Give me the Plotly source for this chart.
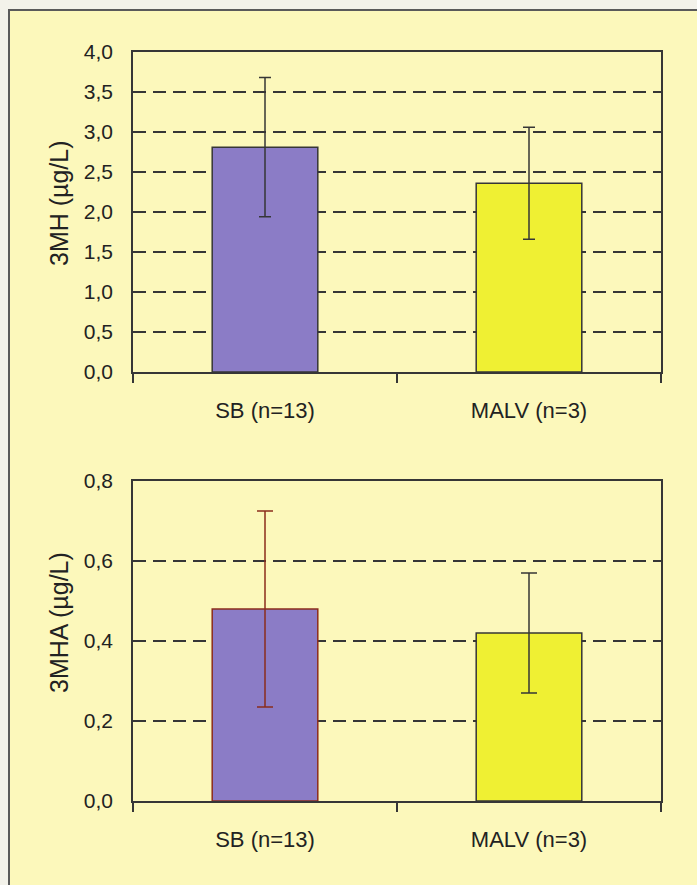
import plotly.graph_objects as go

# ---- data ----
categories = ["SB (n=13)", "MALV (n=3)"]
mh_means = [2.81, 2.36]
mh_err = [0.87, 0.70]
mha_means = [0.48, 0.42]
mha_err = [0.245, 0.15]
mh_ticks = [0.0, 0.5, 1.0, 1.5, 2.0, 2.5, 3.0, 3.5, 4.0]
mha_ticks = [0.0, 0.2, 0.4, 0.6, 0.8]

# ---- styles ----
W, H = 697, 885
bar_fill = ["#8B7CC6", "#EFF033"]
top_line = ["#363636", "#363636"]
bot_line = ["#8B2C1C", "#363636"]
axis_col = "#363636"
font_fam = "Liberation Sans, Arial, sans-serif"
txt_col = "#222222"

def px_x(p):
    return p / W

def px_y(p):
    return 1 - p / H

fig = go.Figure()

for i, cat in enumerate(categories):
    fig.add_trace(go.Bar(
        x=[cat], y=[mh_means[i]], width=0.4,
        marker=dict(color=bar_fill[i], line=dict(color=top_line[i], width=1.5)),
        error_y=dict(type="data", array=[mh_err[i]], color=top_line[i], thickness=1.5, width=6),
        xaxis="x", yaxis="y", showlegend=False,
    ))
    fig.add_trace(go.Bar(
        x=[cat], y=[mha_means[i]], width=0.4,
        marker=dict(color=bar_fill[i], line=dict(color=bot_line[i], width=1.5)),
        error_y=dict(type="data", array=[mha_err[i]], color=bot_line[i], thickness=1.5, width=8),
        xaxis="x2", yaxis="y2", showlegend=False,
    ))

xdom = [px_x(133), px_x(661)]
common_x = dict(
    domain=xdom, type="category", categoryorder="array", categoryarray=categories,
    showline=True, linecolor=axis_col, linewidth=1.5, mirror=True,
    ticks="outside", tickson="boundaries", ticklen=9, tickcolor=axis_col, tickwidth=1.5,
    tickfont=dict(family=font_fam, size=22, color=txt_col), ticklabelstandoff=18,
    showgrid=False, zeroline=False, automargin=False,
)
common_y = dict(
    showline=True, linecolor=axis_col, linewidth=1.5, mirror=True,
    showgrid=True, gridcolor=axis_col, gridwidth=1.6, griddash="13px,7px",
    zeroline=False, ticks="outside", ticklen=14, tickcolor="rgba(0,0,0,0)",
    tickfont=dict(family=font_fam, size=21, color=txt_col),
    tickmode="array", automargin=False,
)

fig.update_layout(
    width=W, height=H, margin=dict(l=0, r=0, t=0, b=0, autoexpand=False),
    paper_bgcolor="#F3F2EA", plot_bgcolor="#FEFEFA",
    barmode="overlay", separators=",.",
    xaxis=dict(common_x, anchor="y"),
    yaxis=dict(common_y, anchor="x", domain=[px_y(372), px_y(52)], range=[0, 4.0],
               tickvals=mh_ticks, ticktext=[f"{v:.1f}".replace(".", ",") for v in mh_ticks]),
    xaxis2=dict(common_x, anchor="y2"),
    yaxis2=dict(common_y, anchor="x2", domain=[px_y(801), px_y(481)], range=[0, 0.8],
                tickvals=mha_ticks, ticktext=[f"{v:.1f}".replace(".", ",") for v in mha_ticks]),
    shapes=[
        dict(type="rect", xref="paper", yref="paper", layer="below",
             x0=px_x(9), x1=1.05, y0=-0.05, y1=px_y(10),
             fillcolor="#FCF8BB", line=dict(color="#5a5a5a", width=2)),
    ],
    annotations=[
        dict(text="3MH (µg/L)", xref="paper", yref="paper", x=px_x(59), y=px_y(203),
             xanchor="center", yanchor="middle",
             textangle=-90, showarrow=False, font=dict(family=font_fam, size=25, color=txt_col)),
        dict(text="3MHA (µg/L)", xref="paper", yref="paper", x=px_x(59), y=px_y(623),
             xanchor="center", yanchor="middle",
             textangle=-90, showarrow=False, font=dict(family=font_fam, size=25, color=txt_col)),
    ],
)

fig.write_html("out.html")
